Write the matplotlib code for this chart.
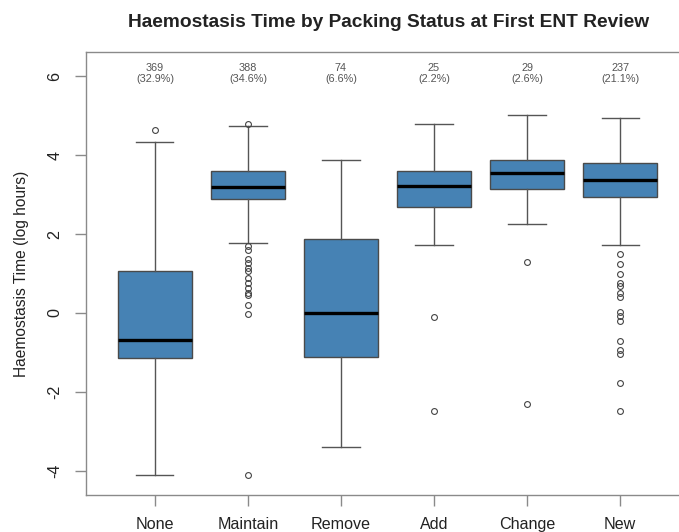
import matplotlib.pyplot as plt
import numpy as np

plt.rcParams["font.family"] = ["Liberation Sans", "DejaVu Sans"]

# packing status groups and their box statistics (log hours)
groups = ["None", "Maintain", "Remove", "Add", "Change", "New"]
counts = [369, 388, 74, 25, 29, 237]

whislo = [-4.10, 1.78, -3.41, 1.71, 2.26, 1.72]
q1 = [-1.14, 2.88, -1.13, 2.68, 3.13, 2.94]
med = [-0.68, 3.20, 0.00, 3.22, 3.55, 3.37]
q3 = [1.06, 3.61, 1.87, 3.59, 3.89, 3.80]
whishi = [4.33, 4.73, 3.89, 4.78, 5.01, 4.94]

fliers_none = [4.63]
fliers_maintain = [4.78, 1.70, 1.59, 1.36, 1.27, 1.15, 1.06, 0.89, 0.77,
                   0.64, 0.51, 0.45, 0.19, -0.02, -4.10]
fliers_remove = []
fliers_add = [-0.10, -2.50]
fliers_change = [1.29, -2.31]
fliers_new = [1.50, 1.23, 0.98, 0.75, 0.68, 0.51, 0.40, 0.03, -0.08, -0.20,
              -0.71, -0.94, -1.05, -1.79, -2.48]

fliers = [fliers_none, fliers_maintain, fliers_remove,
          fliers_add, fliers_change, fliers_new]

stats = []
for i, g in enumerate(groups):
    stats.append({
        "label": g, "whislo": whislo[i], "q1": q1[i], "med": med[i],
        "q3": q3[i], "whishi": whishi[i], "fliers": np.array(fliers[i]),
    })

fig = plt.figure(figsize=(6.79, 5.32), dpi=100)
# right edge of the frame runs past the canvas
ax = fig.add_axes([0.1267, 0.0695, 0.888, 0.833])

edge = "#4a4a4a"
ax.bxp(
    stats,
    positions=np.arange(1, 7),
    widths=0.8,
    capwidths=0.4,
    patch_artist=True,
    boxprops=dict(facecolor="#4682B4", edgecolor=edge, linewidth=1.0),
    medianprops=dict(color="black", linewidth=2.4),
    whiskerprops=dict(color="#555555", linewidth=1.0),
    capprops=dict(color="#555555", linewidth=1.0),
    flierprops=dict(marker="o", markersize=4.2, markerfacecolor="none",
                    markeredgecolor="#444444", markeredgewidth=0.8),
)

total = sum(counts)
for i, n in enumerate(counts):
    ax.text(i + 1, 6.07, "%d\n(%.1f%%)" % (n, 100.0 * n / total),
            ha="center", va="center", fontsize=7.8, color="#555555",
            linespacing=1.1)

ax.set_xlim(0.26, 6.74)
ax.set_ylim(-4.62, 6.62)
ax.set_yticks([-4, -2, 0, 2, 4, 6])
ax.set_yticklabels(["-4", "-2", "0", "2", "4", "6"], rotation=90, va="center")
ax.set_xticks(np.arange(1, 7))
ax.set_xticklabels(groups)

for s in ax.spines.values():
    s.set_color("#8a8a8a")
    s.set_linewidth(1.0)
ax.tick_params(axis="both", direction="out", length=8, width=1.0,
               color="#8a8a8a", labelsize=11.6, labelcolor="#222222")
ax.tick_params(axis="x", pad=8)
ax.tick_params(axis="y", pad=9)

ax.set_ylabel("Haemostasis Time (log hours)", fontsize=11.2, color="#222222",
              labelpad=13)
fig.text(0.572, 0.957, "Haemostasis Time by Packing Status at First ENT Review",
         ha="center", va="center", fontsize=13.8, fontweight="bold",
         color="#222222")

fig.savefig("out.png", dpi=100)
